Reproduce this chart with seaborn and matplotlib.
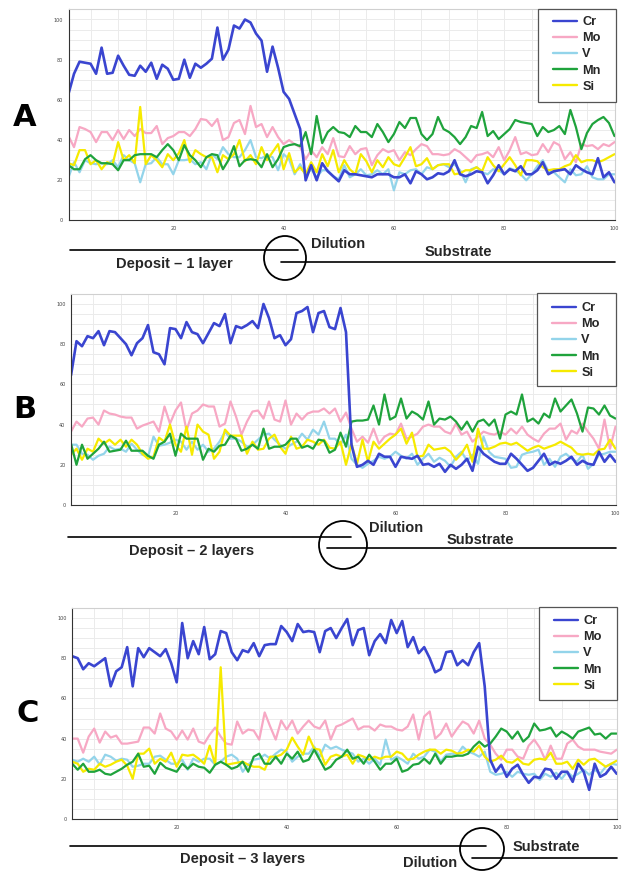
import numpy as np
import pandas as pd
import seaborn as sns
import matplotlib.pyplot as plt
from matplotlib.lines import Line2D
from matplotlib.patches import Ellipse, Rectangle
from matplotlib.ticker import MultipleLocator

# ---------------- data: composition profiles (wt.% scale 0-100) ----------------
elements = ["Cr", "Mo", "V", "Mn", "Si"]
positions = list(range(1, 101))

a_cr = [63, 73, 79, 78.5, 78, 73, 86, 73, 73.5, 82,
        77, 72.5, 72, 77, 74, 78.5, 70.5, 77.5, 75.5, 70,
        70.5, 80, 71, 78, 76, 78, 80.5, 96, 80, 85,
        97, 95.5, 100, 98.5, 93, 89.5, 74, 86.5, 76, 64,
        60.5, 53, 45.5, 20, 27.5, 20, 28.5, 24.5, 22, 19.5,
        25, 23, 23, 22.5, 22, 21.5, 23, 23, 23, 21.5,
        21.5, 23, 18.5, 24.5, 23, 20.5, 21.5, 23.5, 23, 24.5,
        30, 23, 22, 23, 24.5, 24, 18.5, 22.5, 27.5, 23,
        25.5, 24.5, 27, 23, 23, 25, 29, 23, 24.5, 25,
        25.5, 23, 27.5, 25.5, 24, 23, 31, 21.5, 24, 19]
a_mo = [42, 36.5, 46.5, 45.5, 44, 39, 44, 44, 40, 45,
        40.5, 45, 42, 45.5, 43.5, 43.5, 47, 38, 41, 42,
        44, 44, 42, 45.5, 50.5, 50, 47, 50.5, 40, 41.5,
        48.5, 50, 43, 57, 46.5, 48, 41.5, 46.5, 41.5, 38,
        40, 38, 36.5, 30.5, 35, 31.5, 36.5, 33, 41, 32,
        31.5, 37, 33, 35.5, 36, 27.5, 32.5, 35.5, 34, 35,
        30, 34, 32.5, 35.5, 38, 37, 33, 33, 32.5, 33,
        35.5, 34, 31.5, 29, 32.5, 33, 34, 31.5, 36.5, 30,
        35, 41.5, 33, 34, 32.5, 33, 38, 34, 39, 37.5,
        30.5, 34, 29, 38, 37, 37.5, 35.5, 38, 37, 39]
a_v = [21.5, 29, 24, 30, 28.5, 28, 28.5, 28, 30, 26.5,
       32.5, 30, 28.5, 19, 28, 28.5, 31.5, 28, 28, 23,
       30, 30, 30.5, 28, 29, 25.5, 33, 30.5, 36.5, 33,
       31.5, 31.5, 35, 40, 31.5, 31, 32.5, 31.5, 25, 33,
       30.5, 23, 28, 22.5, 25.5, 21.5, 25, 25, 22, 20.5,
       27.5, 21.5, 23, 25.5, 22.5, 23, 25, 23, 25.5, 15,
       24, 23, 25, 25.5, 23, 26.5, 25.5, 27.5, 28, 26.5,
       28, 25, 19, 25.5, 26.5, 24, 23, 25.5, 25, 23,
       26, 25, 23, 20, 23, 27, 30, 24.5, 24, 21.5,
       19, 25.5, 22.5, 23, 27, 21.5, 20.5, 20.5, 23, 23]
a_mn = [27.5, 25.5, 25.5, 30.5, 32.5, 30, 28.5, 28.5, 28, 25,
        30, 30, 32.5, 33, 33, 33, 31.5, 35, 38, 35,
        30, 37.5, 32.5, 30, 26.5, 31.5, 33, 32.5, 25.5, 30,
        37, 27, 30, 30.5, 30, 26.5, 33, 26.5, 30.5, 36.5,
        37.5, 38, 37, 44, 33, 52, 38.5, 44, 46.5, 44,
        43.5, 41.5, 47, 44, 44, 41.5, 48, 44, 39, 43,
        49, 46, 51, 51, 43, 40, 43, 51.5, 45.5, 44,
        41.5, 38, 41.5, 47, 46, 54, 42, 44.5, 40.5, 43,
        45.5, 50, 49, 48.5, 48, 42, 46.5, 44, 45, 47,
        43, 55, 46.5, 35.5, 43.5, 48, 50, 51.5, 48.5, 42]
a_si = [28.5, 27.5, 35, 35, 28, 30, 25.5, 29, 28, 39,
        30, 32.5, 28.5, 56.5, 28, 32.5, 30, 26.5, 33, 30,
        33.5, 40, 29, 35, 33, 31.5, 31.5, 24, 32.5, 30.5,
        33, 40, 29.5, 32.5, 28, 36.5, 30, 34, 38, 25.5,
        33.5, 24, 26.5, 23, 29, 24, 33, 27, 35, 24,
        30, 25.5, 23, 33, 29.5, 24, 30, 26.5, 31.5, 28,
        27, 31.5, 36.5, 27, 28, 31, 25.5, 27.5, 28, 28,
        23, 23.5, 25, 25, 26.5, 24.5, 31.5, 27.5, 24.5, 28,
        31.5, 27.5, 22.5, 30, 30, 29.5, 26.5, 25, 25.5, 25.5,
        27, 28, 32.5, 29, 30, 30, 29, 30, 31.5, 33]

b_cr = [64.5, 81.5, 79, 84, 83, 86.5, 79.5, 86.5, 86, 83,
        80, 74.5, 80.5, 83, 89.5, 76, 75, 70, 88, 87.5,
        83, 91, 86, 85, 80.5, 85.5, 90.5, 89, 95, 80.5,
        89, 88, 89.5, 91.5, 88, 100, 93, 83, 84.5, 79.5,
        82.5, 95.5, 96.5, 98.5, 86, 95.5, 96.5, 88.5, 87.5, 98,
        86, 30, 19, 20, 22, 20, 25.5, 24, 24, 19,
        24, 23.5, 23, 24.5, 20, 20.5, 19, 20.5, 16.5, 20,
        18, 20, 23, 17, 29, 25.5, 23.5, 21.5, 20.5, 20.5,
        25.5, 23, 20, 17, 18.5, 22, 25.5, 20, 21.5, 20.5,
        22, 24, 20, 22, 20.5, 20, 26.5, 21.5, 25, 21.5]
b_mo = [36.5, 41.5, 39, 43, 43.5, 40, 47, 45.5, 45, 44,
        43.5, 43.5, 38, 39.5, 40.5, 41.5, 36.5, 49, 40.5, 47,
        51, 37, 45.5, 47, 50, 49, 49, 39, 40.5, 51.5,
        44, 35, 41.5, 46.5, 47, 43, 51.5, 42.5, 41.5, 52,
        40, 45.5, 42.5, 45.5, 46.5, 46.5, 48, 45.5, 48, 41.5,
        46, 38, 31.5, 34, 31, 38, 30.5, 34, 35.5, 35,
        40.5, 33, 34, 35.5, 39, 40, 39, 39, 36.5, 35.5,
        40.5, 35, 36.5, 31.5, 34, 36.5, 35.5, 35, 36.5, 35,
        38, 35.5, 39, 35, 33, 31.5, 35.5, 38, 38, 40.5,
        32.5, 37, 35.5, 40.5, 36.5, 33, 28, 42.5, 28, 39]
b_v = [30, 30, 25.5, 25, 22.5, 24.5, 25.5, 29, 27.5, 28,
       26.5, 30.5, 27.5, 25, 24, 34, 29.5, 30, 31, 32.5,
       31.5, 27.5, 31.5, 27.5, 30, 26.5, 28, 31.5, 36.5, 33,
       33, 31.5, 29, 30, 32.5, 35, 35.5, 32.5, 30, 28,
       30, 31.5, 35.5, 32.5, 37.5, 35, 41.5, 33, 33, 30,
       35, 23, 20, 18.5, 20.5, 22, 24, 23, 24, 26.5,
       24.5, 23, 25.5, 20, 23, 25.5, 21.5, 23.5, 22, 19,
       24, 26.5, 22, 25, 20.5, 34, 26.5, 24, 23.5, 23,
       18.5, 19, 25, 26, 26.5, 27.5, 20, 23, 19, 24,
       25.5, 23, 21.5, 25, 18, 20.5, 25, 25.5, 26.5, 26.5]
b_mn = [30.5, 20, 30, 23, 25.5, 28, 31.5, 26.5, 27, 27.5,
        32, 27, 27, 27, 24.5, 23, 30, 31.5, 35.5, 24.5,
        35.5, 33, 33, 33, 22.5, 28, 26.5, 29.5, 30, 34.5,
        33, 27, 28, 30, 28, 38, 28, 29, 29, 30,
        33, 33, 28.5, 29.5, 28, 32.5, 32, 26, 27.5, 36,
        29, 41.5, 42, 42, 42.5, 49.5, 40, 55, 42.5, 44,
        53, 43, 46.5, 45, 42.5, 51.5, 40, 43, 42.5, 44,
        41.5, 37.5, 41.5, 36.5, 41.5, 42.5, 39.5, 42.5, 33, 45,
        46.5, 45, 55, 41.5, 43, 40.5, 45.5, 43.5, 53, 46.5,
        49.5, 52.5, 45.5, 36.5, 48.5, 48, 45, 49.5, 44.5, 43]
b_si = [25, 28, 22.5, 28, 26.5, 33, 30.5, 32.5, 30, 32.5,
        29, 32.5, 30, 25.5, 23, 24, 33.5, 31.5, 40, 30,
        26.5, 39, 25, 40, 36.5, 35, 23, 26.5, 37.5, 34.5,
        34.5, 34.5, 25.5, 31.5, 27.5, 28, 33, 35, 29, 25.5,
        34, 28, 29, 32.5, 31.5, 30, 32.5, 28.5, 28, 31.5,
        20, 30.5, 20.5, 32.5, 21.5, 31.5, 28, 30.5, 33, 35,
        38, 30.5, 36, 24, 24.5, 30, 27.5, 28, 28.5, 26.5,
        22.5, 25.5, 30, 21.5, 38, 28, 28, 29, 30.5, 31,
        30, 31, 29, 27, 28.5, 29.5, 28, 29, 30, 31.5,
        30, 28.5, 25.5, 25, 25.5, 25, 27.5, 28, 32.5, 28]

c_cr = [81, 80, 74.5, 77.5, 76, 78, 80, 66, 73.5, 75.5,
        85.5, 66, 85, 80.5, 85, 83, 81, 84.5, 77.5, 68,
        97.5, 80, 88.5, 82, 95.5, 79.5, 82, 93.5, 92.5, 83,
        79, 84, 83, 87.5, 81, 86.5, 87, 87, 96, 93,
        88.5, 97, 93, 93.5, 93, 83, 93.5, 95, 90, 95,
        99.5, 86.5, 94, 95, 81.5, 88.5, 92, 87.5, 99, 92.5,
        98.5, 85.5, 90.5, 82.5, 85.5, 80, 73, 74.5, 83, 83.5,
        76.5, 79, 76.5, 83, 87.5, 66, 29.5, 23.5, 27, 21,
        25, 27, 22, 18, 21, 20.5, 25, 24.5, 20, 23.5,
        23.5, 18.5, 27.5, 23.5, 14.5, 27.5, 21, 22.5, 26, 22.5]
c_mo = [40, 40, 33, 41, 45, 38, 43.5, 40.5, 41.5, 37.5,
        37.5, 38, 38.5, 45.5, 45.5, 42.5, 52.5, 45, 43.5, 39.5,
        44, 39.5, 45, 38.5, 37.5, 42, 45.5, 41, 37.5, 37,
        48.5, 42.5, 44.5, 44, 39.5, 53, 46, 39.5, 49, 44.5,
        49, 42.5, 46, 49, 46, 45, 49, 39.5, 46, 47,
        48.5, 50, 44.5, 46, 46, 44, 47, 46, 46, 44.5,
        44, 46, 52, 39.5, 51, 53.5, 40, 42.5, 47.5, 41,
        45, 48.5, 47, 42.5, 49, 40, 37, 32.5, 29.5, 34.5,
        34.5, 31, 30, 36.5, 39.5, 35.5, 29.5, 36.5, 30, 30,
        37.5, 39.5, 36, 34.5, 34.5, 34.5, 33.5, 33, 32.5, 34.5]
c_v = [29.5, 28.5, 30, 28.5, 31, 27, 32, 31, 29, 30,
       29.5, 26, 26.5, 27.5, 27.5, 31, 31.5, 29.5, 27.5, 27.5,
       29.5, 24.5, 30, 28.5, 30, 30, 27, 28.5, 31, 32,
       30, 23.5, 27, 29.5, 30, 32, 30, 32.5, 34.5, 33.5,
       28.5, 31, 32.5, 32.5, 36, 31, 37, 35, 36, 34.5,
       33.5, 32.5, 28.5, 30, 27.5, 30, 27, 39.5, 29.5, 31,
       29.5, 27.5, 32.5, 30, 31, 34.5, 33.5, 28.5, 32, 32.5,
       32, 36, 33.5, 32.5, 31, 33.5, 23.5, 22, 22.5, 23.5,
       21, 23.5, 22.5, 22, 22.5, 19.5, 22.5, 21, 23, 20,
       23.5, 21, 22.5, 24.5, 22, 24.5, 22.5, 26, 27.5, 27]
c_mn = [27.5, 24.5, 27.5, 23.5, 23.5, 24.5, 22.5, 22, 23.5, 25,
        27, 28.5, 32.5, 26, 26.5, 22.5, 28, 25.5, 24.5, 23.5,
        27.5, 25, 27.5, 26, 25.5, 23, 27, 28.5, 27, 25,
        26, 28.5, 23.5, 31, 32.5, 27.5, 27.5, 31, 27.5, 32.5,
        30, 33.5, 28.5, 29.5, 34.5, 29.5, 24.5, 26, 29.5, 31,
        34.5, 30, 31, 27.5, 32, 28.5, 24.5, 27.5, 27.5, 30,
        23.5, 24.5, 27, 27.5, 30, 27.5, 32.5, 27.5, 31, 31,
        31.5, 31.5, 32.5, 36, 38.5, 36, 37.5, 41, 45, 43.5,
        40, 43.5, 38.5, 41, 47.5, 44, 44.5, 45.5, 41, 43.5,
        42, 40, 43.5, 44.5, 45.5, 42, 42.5, 40, 42.5, 42.5]
c_si = [28.5, 27.5, 23.5, 25, 24.5, 27.5, 26, 27, 28.5, 29.5,
        26.5, 20, 32.5, 32.5, 35, 27.5, 30, 28.5, 33, 26,
        32, 31.5, 32, 30, 27.5, 36.5, 27, 75.5, 27, 27.5,
        28, 28.5, 27, 26, 26, 24.5, 31, 31, 32, 34.5,
        40.5, 36, 32, 41, 35, 34.5, 27, 31, 32, 31,
        32, 27.5, 32, 31, 29.5, 31, 30, 31, 31, 33.5,
        32.5, 29.5, 30, 32, 33.5, 34.5, 34.5, 32.5, 34.5, 34,
        32.5, 33, 34.5, 33.5, 36.5, 31, 28.5, 29.5, 31.5, 28.5,
        28, 30, 27.5, 27, 29.5, 30, 29.5, 33, 27.5, 27.5,
        28.5, 25, 29.5, 27, 29.5, 30, 28, 26, 27.5, 29]

panel_labels = ["A", "B", "C"]
deposit_texts = ["Deposit \u2013 1 layer", "Deposit \u2013 2 layers", "Deposit \u2013 3 layers"]
x_ticks = [20, 40, 60, 80, 100]
y_ticks = [0, 20, 40, 60, 80, 100]

colors = {"Cr": "#3a45d0", "Mo": "#f7a8c4", "V": "#93d4ea",
          "Mn": "#1fa33c", "Si": "#f6ea00"}
draw_order = ["Mo", "V", "Si", "Mn", "Cr"]

panels = [
    dict(cr=a_cr, mo=a_mo, v=a_v, mn=a_mn, si=a_si),
    dict(cr=b_cr, mo=b_mo, v=b_v, mn=b_mn, si=b_si),
    dict(cr=c_cr, mo=c_mo, v=c_v, mn=c_mn, si=c_si),
]

# ---------------- figure setup ----------------
W, H = 623, 871
sns.set_theme(style="white")
plt.rcParams["font.family"] = ["DejaVu Sans"]
fig = plt.figure(figsize=(W / 100, H / 100), dpi=100)
fig.patch.set_facecolor("white")


def fx(px):
    return px / W


def fy(py):
    return 1 - py / H


def add_axes_px(left, right, zero_y, px_per_unit=2.01, ymax=105):
    top = zero_y - ymax * px_per_unit
    return fig.add_axes([fx(left), fy(zero_y), fx(right - left), (zero_y - top) / H])


# axes geometry: left edge (x=1), right edge (x=100), pixel row of y=0
geoms = [(68.5, 614.5, 220.5), (71.0, 615.5, 505.0), (72.2, 616.7, 819.0)]
# legend boxes: left, top, right, bottom (pixels) and first-row centre
legend_boxes = [(538, 9, 616, 102, 22), (537, 293, 616, 386, 308), (539, 607, 617, 700, 621)]

legend_font = {"family": ["Liberation Sans", "DejaVu Sans"], "weight": "bold", "size": 9.2}

for i, (data, (l, r, y0)) in enumerate(zip(panels, geoms)):
    ax = add_axes_px(l, r, y0)
    df = pd.DataFrame({"pos": positions, "Cr": data["cr"], "Mo": data["mo"],
                       "V": data["v"], "Mn": data["mn"], "Si": data["si"]})
    long = df.melt(id_vars="pos", var_name="element", value_name="value")
    for el in draw_order:
        sns.lineplot(data=long[long["element"] == el], x="pos", y="value",
                     color=colors[el], linewidth=1.9 if el == "Cr" else 1.6,
                     ax=ax, legend=False)
    ax.set_xlim(1, 100)
    ax.set_ylim(0, 105)
    ax.set_xlabel("")
    ax.set_ylabel("")
    ax.set_xticks(x_ticks)
    ax.set_yticks(y_ticks)
    ax.xaxis.set_minor_locator(MultipleLocator(5))
    ax.yaxis.set_minor_locator(MultipleLocator(5))
    ax.tick_params(axis="both", which="major", labelsize=3.5, labelcolor="#444",
                   length=2.5, width=0.6, color="#333", pad=1.5)
    ax.tick_params(axis="both", which="minor", length=2, width=0.5, color="#555")
    ax.grid(True, which="both", color="#ebebeb", linewidth=0.7)
    ax.set_axisbelow(True)
    for side in ["left", "bottom"]:
        ax.spines[side].set_color("#333")
        ax.spines[side].set_linewidth(0.8)
    for side in ["top", "right"]:
        ax.spines[side].set_color("#d0d0d0")
        ax.spines[side].set_linewidth(0.8)

    # legend: framed white box with the five element keys
    bl, bt, br, bb, row0 = legend_boxes[i]
    box = Rectangle((fx(bl), fy(bb)), (br - bl) / W, (bb - bt) / H,
                    transform=fig.transFigure, facecolor="white",
                    edgecolor="#555", linewidth=0.9, zorder=4, clip_on=False)
    ax.add_patch(box)
    handles = [Line2D([], [], color=colors[el], linewidth=1.7) for el in elements]
    leg = ax.legend(handles, elements, loc="upper left",
                    bbox_to_anchor=(fx(bl + 15), fy(row0 - 6)),
                    bbox_transform=fig.transFigure, borderaxespad=0,
                    borderpad=0, frameon=False, prop=legend_font,
                    handlelength=1.9, handletextpad=0.4, labelspacing=0.33)
    leg.set_zorder(5)

# ---------------- panel letters and region annotations ----------------
label_pos = [(25, 117), (25, 410), (28, 714)]
for lab, (px, py) in zip(panel_labels, label_pos):
    fig.text(fx(px), fy(py), lab, fontsize=22, fontweight="bold",
             ha="center", va="center", color="black")

ann_font = dict(family=["Liberation Sans", "DejaVu Sans"], weight="bold", size=10.5)

annotations = [
    dict(dep=(70, 298, 250), dep_txt=(174, 264), circ=(285, 258, 42, 44),
         dil=(338, 244), sub_txt=(458, 252), sub=(281, 615, 262)),
    dict(dep=(68, 351, 537), dep_txt=(192, 551), circ=(343, 545, 48, 48),
         dil=(396, 528), sub_txt=(480, 540), sub=(327, 616, 548)),
    dict(dep=(70, 486, 846), dep_txt=(243, 859), circ=(482, 849, 44, 42),
         dil=(430, 863), sub_txt=(546, 847), sub=(472, 617, 858)),
]

for txt, a in zip(deposit_texts, annotations):
    x0, x1, yy = a["dep"]
    fig.add_artist(Line2D([fx(x0), fx(x1)], [fy(yy), fy(yy)], color="black",
                          linewidth=1.2, transform=fig.transFigure))
    x0, x1, yy = a["sub"]
    fig.add_artist(Line2D([fx(x0), fx(x1)], [fy(yy), fy(yy)], color="black",
                          linewidth=1.2, transform=fig.transFigure))
    cx, cy, cw, ch = a["circ"]
    fig.add_artist(Ellipse((fx(cx), fy(cy)), cw / W, ch / H, fill=False,
                           edgecolor="black", linewidth=1.3,
                           transform=fig.transFigure))
    fig.text(fx(a["dep_txt"][0]), fy(a["dep_txt"][1]), txt, ha="center",
             va="center", **ann_font)
    fig.text(fx(a["dil"][0]), fy(a["dil"][1]), "Dilution", ha="center",
             va="center", **ann_font)
    fig.text(fx(a["sub_txt"][0]), fy(a["sub_txt"][1]), "Substrate", ha="center",
             va="center", **ann_font)

fig.savefig("out.png", dpi=100, facecolor="white")
